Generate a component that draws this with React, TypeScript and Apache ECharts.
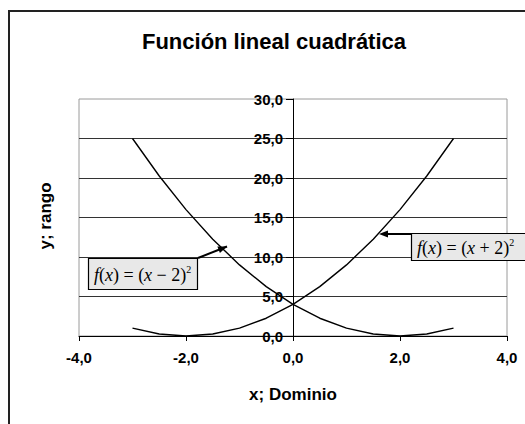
import React, { useEffect, useRef } from "react";
import * as echarts from "echarts";

const titleText = "Función lineal cuadrática";
const xAxisName = "x; Dominio";
const yAxisName = "y; rango";

const xValues = [-3, -2.5, -2, -1.5, -1, -0.5, 0, 0.5, 1, 1.5, 2, 2.5, 3];
const minusTwoSquared = [25, 20.25, 16, 12.25, 9, 6.25, 4, 2.25, 1, 0.25, 0, 0.25, 1];
const plusTwoSquared = [1, 0.25, 0, 0.25, 1, 2.25, 4, 6.25, 9, 12.25, 16, 20.25, 25];

const xTicks = { min: -4, max: 4, interval: 2 };
const yTicks = { min: 0, max: 30, interval: 5 };

const fmt = (v: number) => v.toFixed(1).replace(".", ",");

const FONT = "Arial, 'Liberation Sans', sans-serif";
const SERIF = "'Times New Roman', 'Liberation Serif', serif";

const formulaRich = {
  i: { fontFamily: SERIF, fontStyle: "italic", fontSize: 18, color: "#000" },
  n: { fontFamily: SERIF, fontSize: 18, color: "#000" },
  s: { fontFamily: SERIF, fontSize: 10, color: "#000", verticalAlign: "top", padding: [0, 0, 11, 0] },
};

function arrowHead(tipX: number, tipY: number, fromX: number, fromY: number) {
  const dx = tipX - fromX;
  const dy = tipY - fromY;
  const len = Math.sqrt(dx * dx + dy * dy);
  const ux = dx / len;
  const uy = dy / len;
  const L = 9;
  const W = 3.5;
  const bx = tipX - ux * L;
  const by = tipY - uy * L;
  return [
    [tipX, tipY],
    [bx - uy * W, by + ux * W],
    [bx + uy * W, by - ux * W],
  ];
}

export default function App() {
  const ref = useRef<HTMLDivElement>(null);
  useEffect(() => {
    if (!ref.current) return;
    const chart = echarts.init(ref.current, undefined, { renderer: "svg" });
    const a1 = { fromX: 198, fromY: 258, tipX: 227, tipY: 246.5 };
    const a2 = { fromX: 411, fromY: 234, tipX: 379, tipY: 234 };
    const gridLeft = 79;
    const gridRight = 18;
    const gridWidth = 525 - gridLeft - gridRight;
    const yAxisOffset = -((0 - xTicks.min) / (xTicks.max - xTicks.min)) * gridWidth;
    chart.setOption({
      animation: false,
      backgroundColor: "#fff",
      grid: {
        left: gridLeft,
        right: gridRight,
        top: 99,
        bottom: 88,
        show: true,
        borderColor: "#9a9a9a",
        borderWidth: 1,
        containLabel: false,
        outerBoundsMode: "none",
      },
      xAxis: {
        type: "value",
        min: xTicks.min,
        max: xTicks.max,
        interval: xTicks.interval,
        name: xAxisName,
        nameLocation: "middle",
        nameGap: 50,
        nameTextStyle: { fontFamily: FONT, fontWeight: "bold", fontSize: 17, color: "#000" },
        axisLine: { show: true, onZero: false, lineStyle: { color: "#000", width: 1 } },
        axisTick: { show: true, length: 5, lineStyle: { color: "#000" } },
        axisLabel: {
          formatter: fmt,
          fontFamily: FONT,
          fontWeight: "bold",
          fontSize: 15,
          color: "#000",
          margin: 14,
        },
        splitLine: { show: false },
      },
      yAxis: {
        type: "value",
        min: yTicks.min,
        max: yTicks.max,
        interval: yTicks.interval,
        position: "left",
        offset: yAxisOffset,
        axisLine: { show: true, onZero: false, lineStyle: { color: "#000", width: 1 } },
        axisTick: { show: true, length: 7, lineStyle: { color: "#000" } },
        axisLabel: {
          formatter: fmt,
          fontFamily: FONT,
          fontWeight: "bold",
          fontSize: 15,
          color: "#000",
          margin: 10,
        },
        splitLine: {
          show: true,
          showMinLine: false,
          showMaxLine: false,
          lineStyle: { color: "#333", width: 1 },
        },
      },
      series: [
        {
          name: "f(x) = (x - 2)^2",
          type: "line",
          data: xValues.map((x, i) => [x, minusTwoSquared[i]]),
          showSymbol: false,
          symbol: "none",
          lineStyle: { color: "#000", width: 1.4 },
          z: 5,
        },
        {
          name: "f(x) = (x + 2)^2",
          type: "line",
          data: xValues.map((x, i) => [x, plusTwoSquared[i]]),
          showSymbol: false,
          symbol: "none",
          lineStyle: { color: "#000", width: 1.4 },
          z: 5,
        },
      ],
      graphic: [
        {
          type: "rect",
          shape: { x: 9, y: 11, width: 700, height: 600 },
          style: { fill: "none", stroke: "#222", lineWidth: 2 },
          silent: true,
        },
        {
          type: "text",
          x: 274,
          y: 41,
          style: {
            text: titleText,
            fontFamily: FONT,
            fontWeight: "bold",
            fontSize: 22,
            fill: "#000",
            align: "center",
            verticalAlign: "middle",
          },
        },
        {
          type: "text",
          x: 45,
          y: 216,
          rotation: Math.PI / 2,
          style: {
            text: yAxisName,
            fontFamily: FONT,
            fontWeight: "bold",
            fontSize: 17,
            fill: "#000",
            align: "center",
            verticalAlign: "middle",
          },
        },
        {
          type: "rect",
          shape: { x: 88.5, y: 258.5, width: 109, height: 31 },
          style: { fill: "#e8e8e8", stroke: "#000", lineWidth: 1.2 },
          z: 10,
        },
        {
          type: "text",
          x: 94,
          y: 275,
          z: 11,
          style: {
            text: "{i|f}{n|(}{i|x}{n|) = (}{i|x}{n| − 2)}{s|2}",
            rich: formulaRich,
            align: "left",
            verticalAlign: "middle",
          },
        },
        {
          type: "line",
          shape: { x1: a1.fromX, y1: a1.fromY, x2: a1.tipX, y2: a1.tipY },
          style: { stroke: "#000", lineWidth: 2 },
          z: 10,
        },
        {
          type: "polygon",
          shape: { points: arrowHead(a1.tipX, a1.tipY, a1.fromX, a1.fromY) },
          style: { fill: "#000" },
          z: 10,
        },
        {
          type: "rect",
          shape: { x: 411.5, y: 233.5, width: 118, height: 27 },
          style: { fill: "#e8e8e8", stroke: "#000", lineWidth: 1.2 },
          z: 10,
        },
        {
          type: "text",
          x: 417,
          y: 248,
          z: 11,
          style: {
            text: "{i|f}{n|(}{i|x}{n|) = (}{i|x}{n| + 2)}{s|2}",
            rich: formulaRich,
            align: "left",
            verticalAlign: "middle",
          },
        },
        {
          type: "line",
          shape: { x1: a2.fromX, y1: a2.fromY, x2: a2.tipX + 4, y2: a2.tipY },
          style: { stroke: "#000", lineWidth: 2 },
          z: 10,
        },
        {
          type: "polygon",
          shape: { points: arrowHead(a2.tipX, a2.tipY, a2.fromX, a2.fromY) },
          style: { fill: "#000" },
          z: 10,
        },
      ],
    });
    return () => chart.dispose();
  }, []);
  return (
    <div
      ref={ref}
      style={{ position: "fixed", left: 0, top: 0, width: 525, height: 424, background: "#fff" }}
    />
  );
}
